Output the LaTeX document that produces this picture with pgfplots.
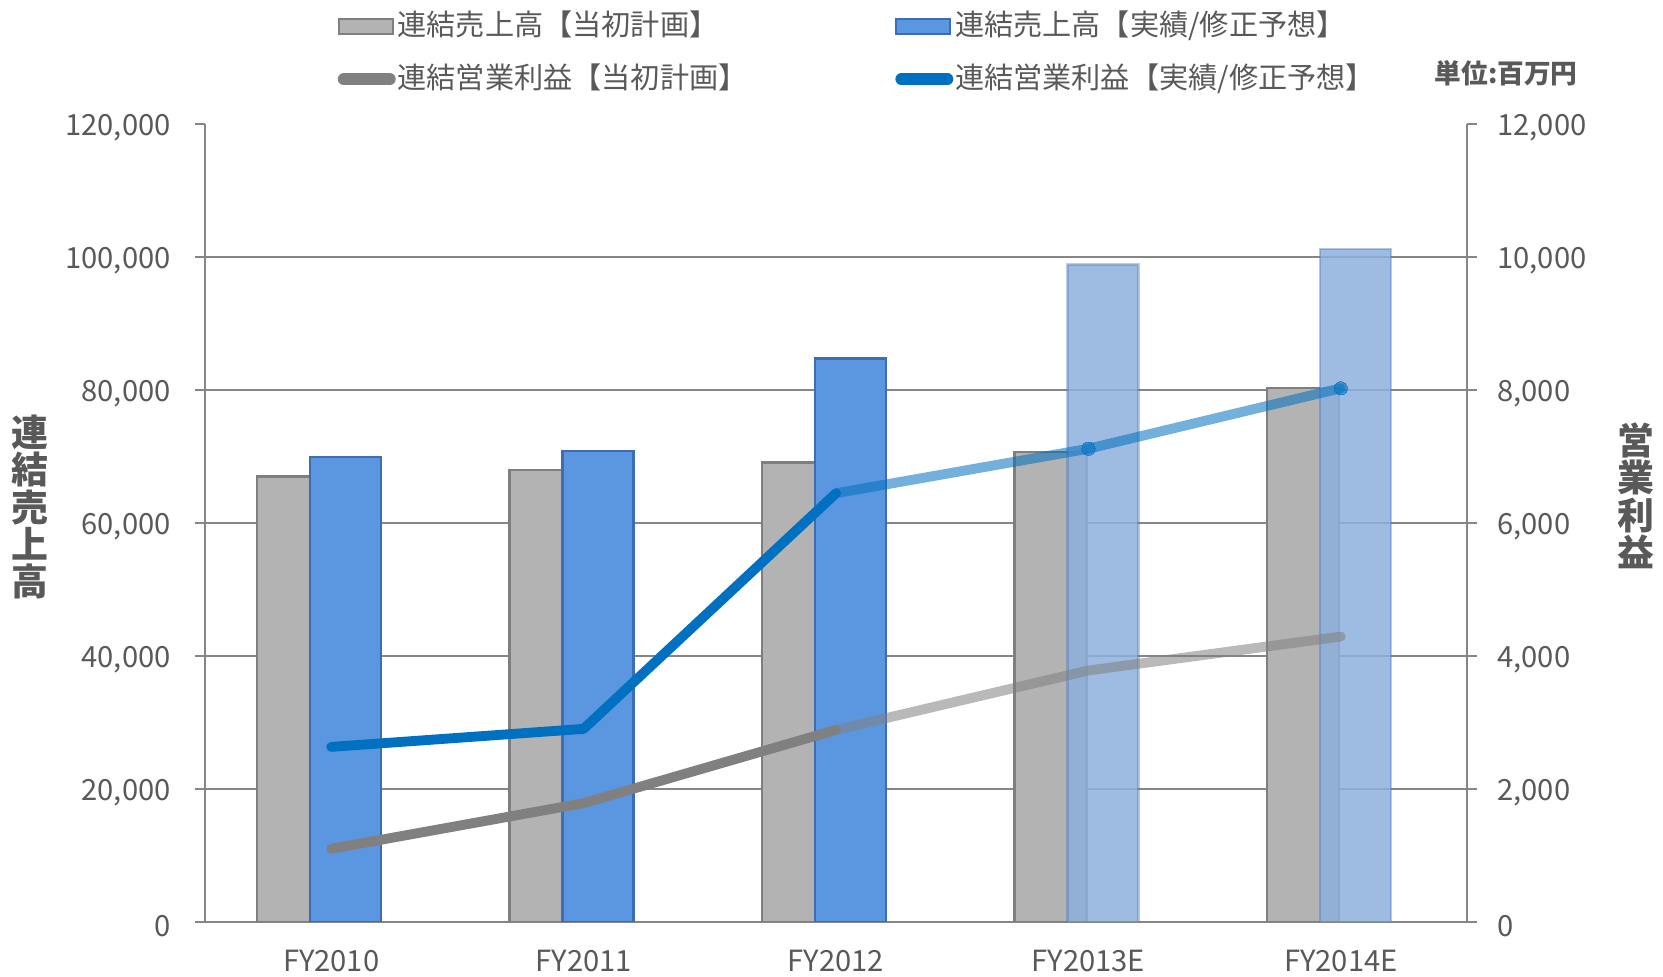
\documentclass[border=0pt]{standalone}
\usepackage{pgfplots}
\pgfplotsset{compat=1.18}
\usepackage{fontspec}
\setmainfont{Noto Sans CJK JP}
\definecolor{txt}{HTML}{595959}
\definecolor{grayfill}{HTML}{B3B3B3}
\definecolor{grayedge}{HTML}{7F7F7F}
\definecolor{bluefill}{HTML}{5B97E0}
\definecolor{blueedge}{HTML}{3D6DB5}
\definecolor{bluefc}{HTML}{8DB0DC}
\definecolor{lineblue}{HTML}{0070C0}
\definecolor{linegray}{HTML}{808080}
\definecolor{axisgray}{HTML}{868686}
\begin{document}
\begin{tikzpicture}[font=\fontsize{8.3}{10}\selectfont]
\path[use as bounding box] (-20.5mm,-5.5mm) rectangle (145.8mm,92.2mm);
\pgfplotsset{
  common/.style={
    at={(0,0)}, anchor=south west, scale only axis,
    width=126.2mm, height=79.8mm,
    xmin=-0.5, xmax=4.5,
    scaled y ticks=false,
    /pgf/number format/fixed,
    /pgf/number format/1000 sep={,},
    /pgf/number format/assume math mode=true,
    tick label style={text=txt},
    axis line style={axisgray, line width=0.6pt},
    tick style={axisgray, line width=0.6pt},
    tick align=outside,
    major tick length=1mm,
    minor tick length=1mm,
  }
}
\begin{axis}[common,
  ymin=0, ymax=120000,
  axis x line*=bottom, axis y line*=left,
  xtick={0,...,4},
  xticklabels={FY2010,FY2011,FY2012,FY2013E,FY2014E},
  minor xtick={-0.5,0.5,...,4.5},
  x tick style={draw=none},
  minor x tick style={axisgray, line width=0.6pt},
  xticklabel style={yshift=-0.6mm},
  ytick={0,20000,...,120000},
  yticklabel style={xshift=-1.2mm, yshift=-0.4mm},
  extra y ticks={20000,40000,60000,80000,100000},
  extra y tick labels={},
  extra y tick style={grid=major, major grid style={axisgray, line width=0.6pt}},
  ylabel={連\\結\\売\\上\\高},
  ylabel style={rotate=-90, align=center, at={(axis description cs:-0.139,0.52)}, anchor=center,
    font=\fontsize{10.5}{10.6}\selectfont\bfseries, text=txt},
]
\addplot[ybar, bar width=7.2mm, bar shift=-3.8mm, fill=grayfill, draw=grayedge, line width=0.7pt]
  coordinates {(0,67000)(1,68000)(2,69100)(3,70700)(4,80300)};
\addplot[ybar, bar width=7.1mm, bar shift=1.45mm, fill=bluefill, draw=blueedge, line width=0.7pt]
  coordinates {(0,69900)(1,70800)(2,84700)};
\addplot[ybar, bar width=7.1mm, bar shift=1.45mm, fill=bluefc, fill opacity=0.85, draw=blueedge, draw opacity=0.35, line width=0.7pt]
  coordinates {(3,98900)(4,101200)};
\end{axis}
\begin{axis}[common,
  clip mode=individual,
  ymin=0, ymax=12000,
  axis y line*=right, axis x line=none,
  ytick={0,2000,...,12000},
  yticklabel style={xshift=0.8mm, yshift=-0.4mm},
  ylabel={営\\業\\利\\益},
  ylabel style={rotate=-90, align=center, at={(axis description cs:1.134,0.534)}, anchor=center,
    font=\fontsize{10.5}{10.6}\selectfont\bfseries, text=txt},
  legend columns=2,
  legend cell align=left,
  legend style={draw=none, fill=none, inner sep=0pt, at={(axis description cs:0.1046,1.151)}, anchor=north west,
    text=txt, row sep=0.9mm, /tikz/every even column/.append style={column sep=14.6mm},
    nodes={inner xsep=0.5pt}},
]
\addlegendimage{legend image code/.code={\draw[fill=grayfill,draw=grayedge,line width=0.6pt] (0mm,-0.75mm) rectangle (5.4mm,0.75mm);}}
\addlegendentry{連結売上高【当初計画】}
\addlegendimage{legend image code/.code={\draw[fill=bluefill,draw=blueedge,line width=0.6pt] (0mm,-0.75mm) rectangle (5.4mm,0.75mm);}}
\addlegendentry{連結売上高【実績/修正予想】}
\addlegendimage{legend image code/.code={\draw[linegray,line width=3.4pt,line cap=round] (0.5mm,0mm) -- (5.1mm,0mm);}}
\addlegendentry{連結営業利益【当初計画】}
\addlegendimage{legend image code/.code={\draw[lineblue,line width=3.4pt,line cap=round] (0.5mm,0mm) -- (5.1mm,0mm);}}
\addlegendentry{連結営業利益【実績/修正予想】}
\addplot[forget plot, linegray, opacity=0.55, line width=2.8pt, line cap=round, line join=round]
  coordinates {(2,2888)(3,3782)(4,4292)};
\addplot[forget plot, linegray, line width=2.8pt, line cap=round, line join=round]
  coordinates {(0,1101)(1,1787)(2,2888)};
\addplot[forget plot, lineblue, opacity=0.55, line width=2.8pt, line cap=round, line join=round,
  mark=*, mark indices={2,3}, mark size=1.9pt, mark options={line width=0pt}]
  coordinates {(2,6447)(3,7117)(4,8026)};
\addplot[forget plot, lineblue, line width=2.8pt, line cap=round, line join=round]
  coordinates {(0,2633)(1,2904)(2,6447)};
\node[font=\fontsize{7.6}{9}\selectfont\bfseries, text=txt] at (axis description cs:1.031,1.063) {単位:百万円};
\end{axis}
\end{tikzpicture}
\end{document}
